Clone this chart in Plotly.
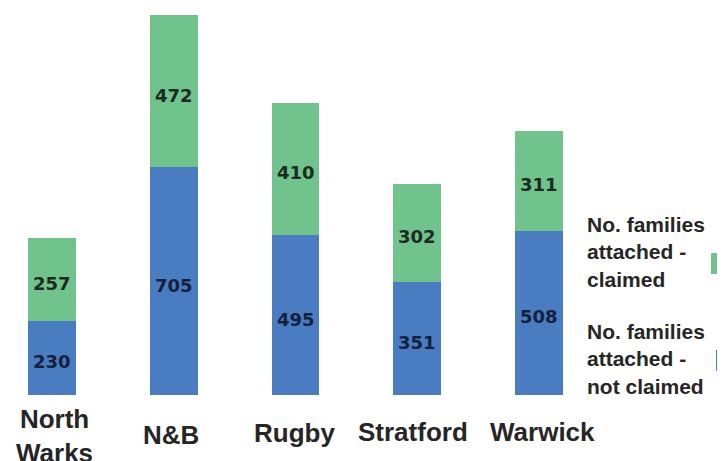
import plotly.graph_objects as go

categories = ["North<br>Warks", "N&B", "Rugby", "Stratford", "Warwick"]
not_claimed = [230, 705, 495, 351, 508]
claimed = [257, 472, 410, 302, 311]
legend_claimed = "No. families<br>attached -<br>claimed"
legend_not_claimed = "No. families<br>attached -<br>not claimed"

GREEN = "#70C38D"
BLUE = "#4A7CC1"

OFF = 8  # page body margin
W, H = 725 - OFF, 461 - OFF
BASE = 395 - OFF  # baseline pixel within figure
x_idx = list(range(len(categories)))

fig = go.Figure()
fig.add_trace(go.Bar(
    x=x_idx, y=not_claimed, marker=dict(color=BLUE, line=dict(width=0)),
    width=0.394, showlegend=False, hoverinfo="skip"))
fig.add_trace(go.Bar(
    x=x_idx, y=claimed, marker=dict(color=GREEN, line=dict(width=0)),
    width=0.394, showlegend=False, hoverinfo="skip"))

a = -(52 - OFF) / 121.75
b = a + W / 121.75
fig.update_layout(
    width=W, height=H, barmode="stack",
    margin=dict(l=0, r=0, t=0, b=H - BASE, pad=0),
    paper_bgcolor="white", plot_bgcolor="white",
    xaxis=dict(range=[a, b], visible=False),
    yaxis=dict(range=[0, BASE / 0.3229], visible=False),
)

# value labels, placed at segment midpoints (slightly lowered like the original)
for i in x_idx:
    nc, cl = not_claimed[i], claimed[i]
    fig.add_annotation(x=i, y=nc / 2, xref="x", yref="y", yshift=-4,
                       text=str(nc), showarrow=False,
                       font=dict(family="DejaVu Sans", size=18,
                                 color="#14213D", weight="bold"))
    fig.add_annotation(x=i, y=nc + cl / 2, xref="x", yref="y", yshift=-4,
                       text=str(cl), showarrow=False,
                       font=dict(family="DejaVu Sans", size=18,
                                 color="#1E2B20", weight="bold"))

def py(p):
    return (BASE - (p - OFF)) / BASE

def px(p):
    return (p - OFF) / W

label_y = [436, 435, 433, 432, 432]
label_dx = [2, -3, -1, -4, 3]
for i, c in enumerate(categories):
    fig.add_annotation(x=i, y=py(label_y[i]), xref="x", yref="paper",
                       xshift=label_dx[i], text=c, showarrow=False,
                       xanchor="center", yanchor="middle", align="center",
                       font=dict(family="Liberation Sans", size=26,
                                 color="#262626", weight="bold"))

for txt, cy in [(legend_claimed, 252), (legend_not_claimed, 359)]:
    fig.add_annotation(x=px(585), y=py(cy), xref="paper", yref="paper",
                       text=txt, showarrow=False, xanchor="left",
                       yanchor="middle", align="left",
                       font=dict(family="Liberation Sans", size=21,
                                 color="#262626", weight="bold"))

fig.add_shape(type="rect", xref="paper", yref="paper",
              x0=px(711), x1=px(726), y0=py(274), y1=py(253),
              fillcolor=GREEN, line=dict(width=0))
fig.add_shape(type="rect", xref="paper", yref="paper",
              x0=px(716), x1=px(726), y0=py(371), y1=py(350),
              fillcolor=BLUE, line=dict(width=0))

fig.write_html("out.html")
